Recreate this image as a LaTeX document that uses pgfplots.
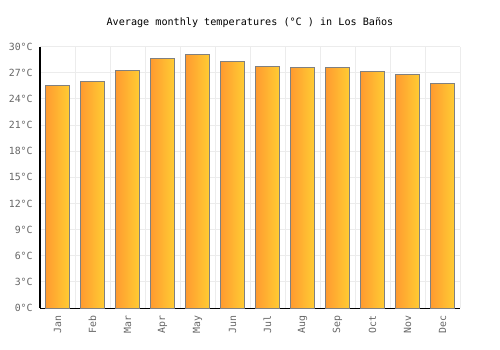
\documentclass[border=0pt]{standalone}
\usepackage{pgfplots}
\pgfplotsset{compat=1.18}
\usepackage{fontspec}
\setmainfont{DejaVu Sans Mono}
\definecolor{barL}{RGB}{255,155,48}
\definecolor{barR}{RGB}{255,204,51}
\definecolor{barE}{RGB}{128,128,128}
\definecolor{gridc}{RGB}{236,236,236}
\definecolor{lab}{RGB}{102,102,102}
\pgfplotsset{mybar/.style={ybar, bar width=17.5pt, bar shift=0pt,
  draw=barE, line width=0.75pt,
  left color=barL, right color=barR}}
\begin{document}
\begin{tikzpicture}
\useasboundingbox (-30pt,-31.5pt) rectangle (345pt,231pt);
\begin{axis}[
  at={(0,0)}, anchor=south west,
  scale only axis, width=315pt, height=196.1pt,
  xmin=-0.5, xmax=11.5, ymin=0, ymax=30,
  axis x line*=bottom, axis y line*=left,
  axis line style={-, black, line width=0.75pt},
  xtick={0,...,11},
  xticklabels={Jan,Feb,Mar,Apr,May,Jun,Jul,Aug,Sep,Oct,Nov,Dec},
  minor xtick={0.5,1.5,...,11.5},
  ytick={0,3,...,30},
  yticklabels={0°C,3°C,6°C,9°C,12°C,15°C,18°C,21°C,24°C,27°C,30°C},
  ymajorgrids, xminorgrids,
  grid style={gridc, line width=0.6pt},
  major tick length=0pt, minor tick length=0pt,
  tick label style={font=\fontsize{7.4}{9}\selectfont, text=lab},
  xticklabel style={rotate=90, anchor=east, xshift=-2pt},
  yticklabel style={xshift=-2pt},
  clip=false,
]
\addplot[mybar] coordinates {(0,25.5)};
\addplot[mybar] coordinates {(1,26.0)};
\addplot[mybar] coordinates {(2,27.3)};
\addplot[mybar] coordinates {(3,28.6)};
\addplot[mybar] coordinates {(4,29.1)};
\addplot[mybar] coordinates {(5,28.3)};
\addplot[mybar] coordinates {(6,27.7)};
\addplot[mybar] coordinates {(7,27.6)};
\addplot[mybar] coordinates {(8,27.6)};
\addplot[mybar] coordinates {(9,27.1)};
\addplot[mybar] coordinates {(10,26.8)};
\addplot[mybar] coordinates {(11,25.8)};
\node[font=\fontsize{7.6}{9}\selectfont, text=black] at (rel axis cs:0.5,1) [yshift=17.6pt] {Average monthly temperatures (°C ) in Los Baños};
\end{axis}
\end{tikzpicture}
\end{document}
